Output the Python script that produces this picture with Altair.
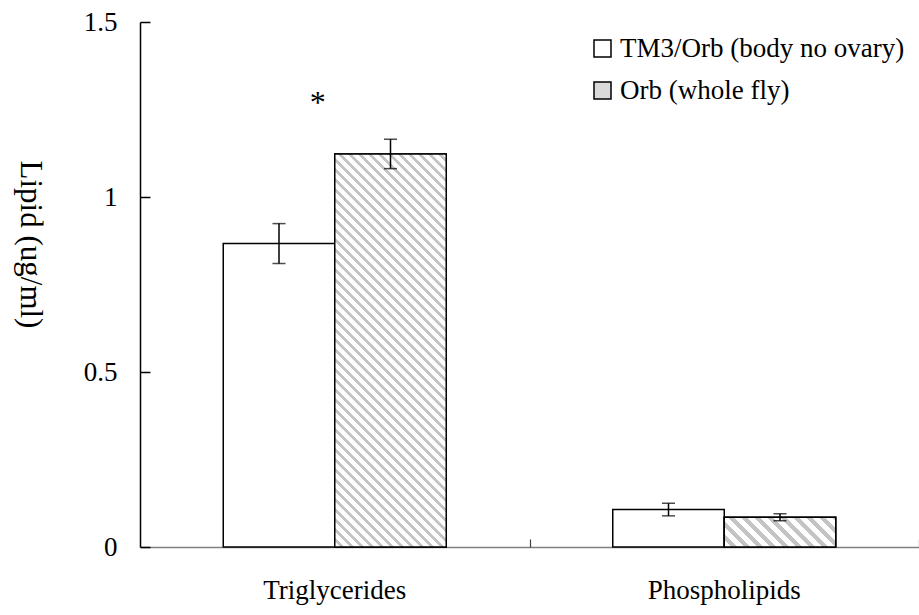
import altair as alt
import pandas as pd

# ---- data ----
categories = ["Triglycerides", "Phospholipids"]
series = ["TM3/Orb (body no ovary)", "Orb (whole fly)"]
trig_values = [0.867, 1.123]
phos_values = [0.107, 0.085]
trig_err = [0.057, 0.042]
phos_err = [0.018, 0.010]
y_ticks = [0, 0.5, 1, 1.5]
star_cat = ["Triglycerides"]
star_y = [1.24]
star_text = ["*"]

rows = []
for cat, vals, errs in zip(categories, [trig_values, phos_values], [trig_err, phos_err]):
    for s, v, e in zip(series, vals, errs):
        rows.append(dict(cat=cat, series=s, value=v, lo=v - e, hi=v + e))
df = pd.DataFrame(rows)
star_df = pd.DataFrame({"cat": star_cat, "y": star_y, "t": star_text})

# ---- layout ----
W, H = 779, 525
PAD = {"left": 140, "top": 22, "right": 0, "bottom": 68}
FONT = "Liberation Serif"
LBL = 27
P_IN = 0.4275
YMAX = 1.5


def hatch(w, h, period, frac=0.42, color="#c4c4c4"):
    n = (w + h) / period
    k = (w + h) / (w * w + h * h)
    step = 1.0 / n
    stops = []
    t = 0.0
    while t < 1.0 - 1e-9:
        b = min(t + step * (1 - frac), 1.0)
        c = min(t + step, 1.0)
        stops.append({"offset": round(t, 5), "color": "white"})
        stops.append({"offset": round(b, 5), "color": "white"})
        if b < 1.0:
            stops.append({"offset": round(b, 5), "color": color})
            stops.append({"offset": round(c, 5), "color": color})
        t += step
    return {"gradient": "linear", "x1": 0, "y1": 1, "x2": k * w,
            "y2": 1 - k * h, "stops": stops}


bar_w = W / 2 * (1 - P_IN) / 2

xscale = alt.Scale(domain=categories, paddingInner=P_IN, paddingOuter=P_IN / 2)
yscale = alt.Scale(domain=[0, YMAX], nice=False, zero=True)
oscale = alt.Scale(domain=series, paddingInner=0, paddingOuter=0)

x_axis = alt.Axis(title=None, labelFont=FONT, labelFontSize=LBL, labelColor="black",
                  labelPadding=30, labelAngle=0, ticks=False, domainColor="#808080",
                  domainWidth=1.5, grid=False)
y_axis = alt.Axis(title="Lipid (ug/ml)", values=y_ticks, format="~g", labelFont=FONT,
                  labelFontSize=LBL, labelColor="black", labelPadding=23, ticks=False,
                  domainColor="black", domainWidth=1.5, grid=False, titleFont=FONT,
                  titleFontSize=31, titleFontWeight="normal", titleColor="black",
                  titleAngle=90, titleX=-111, titleY=222, titleAlign="center",
                  titleBaseline="middle")

X = alt.X("cat:N", scale=xscale, axis=x_axis, sort=categories)
XO = alt.XOffset("series:N", scale=oscale, sort=series)
base = alt.Chart(df)

bars = base.mark_bar(stroke="black", strokeWidth=1.5).encode(
    x=X, xOffset=XO,
    y=alt.Y("value:Q", scale=yscale, axis=y_axis),
    fill=alt.Fill("series:N", sort=series,
                  scale=alt.Scale(domain=series, range=["white", "#dadada"]),
                  legend=alt.Legend(title=None, orient="none", legendX=449, legendY=13,
                                    symbolType="square", symbolSize=289,
                                    symbolStrokeColor="black", symbolStrokeWidth=1.5,
                                    labelFont=FONT, labelFontSize=LBL, labelColor="black",
                                    labelOffset=4, labelLimit=0, rowPadding=14, padding=0)),
)

hatch_layers = []
for cat, vals, period in zip(categories, [trig_values, phos_values], [10, 13]):
    h = vals[1] / YMAX * H
    hatch_layers.append(
        base.transform_filter(
            (alt.datum.cat == cat) & (alt.datum.series == series[1])
        ).mark_bar(stroke="black", strokeWidth=1.5, fill=hatch(bar_w, h, period)).encode(
            x=X, xOffset=XO, y=alt.Y("value:Q", scale=yscale)
        )
    )

err_rule = base.mark_rule(color="black", strokeWidth=1.5).encode(
    x=X, xOffset=XO, y=alt.Y("lo:Q", scale=yscale), y2="hi:Q")
cap_lo = base.mark_tick(color="black", thickness=1.5, size=13).encode(
    x=X, xOffset=XO, y=alt.Y("lo:Q", scale=yscale))
cap_hi = base.mark_tick(color="black", thickness=1.5, size=13).encode(
    x=X, xOffset=XO, y=alt.Y("hi:Q", scale=yscale))

star = alt.Chart(star_df).mark_text(font=FONT, fontSize=32, dx=-17, baseline="alphabetic",
                                    color="black").encode(
    x=X, y=alt.Y("y:Q", scale=yscale), text="t:N")

main = alt.layer(bars, *hatch_layers, err_rule, cap_lo, cap_hi, star)

# inward-pointing ticks drawn by extra axes placed over the main ones
tick_layer = alt.Chart(df).mark_tick(opacity=0).encode(
    x=alt.X("cat:N", scale=xscale, sort=categories,
            axis=alt.Axis(orient="top", offset=-H, labels=False, domain=False, title=None,
                          ticks=True, tickOffset=W / 4, tickSize=8, tickColor="#404040",
                          tickWidth=1.2, grid=False)),
    y=alt.Y("value:Q", scale=yscale,
            axis=alt.Axis(orient="right", offset=-W, labels=False, domain=False, title=None,
                          values=y_ticks, tickSize=10, tickColor="black", tickWidth=1.5,
                          grid=False)),
)

chart = alt.layer(main, tick_layer).resolve_axis(x="independent", y="independent").properties(
    width=W, height=H, padding=PAD, autosize=alt.AutoSizeParams(type="none"),
    background="white",
).configure_view(stroke=None).configure_axis(labelFont=FONT, labelColor="black")

chart.save("out.html", embed_options={"renderer": "svg", "actions": False})
